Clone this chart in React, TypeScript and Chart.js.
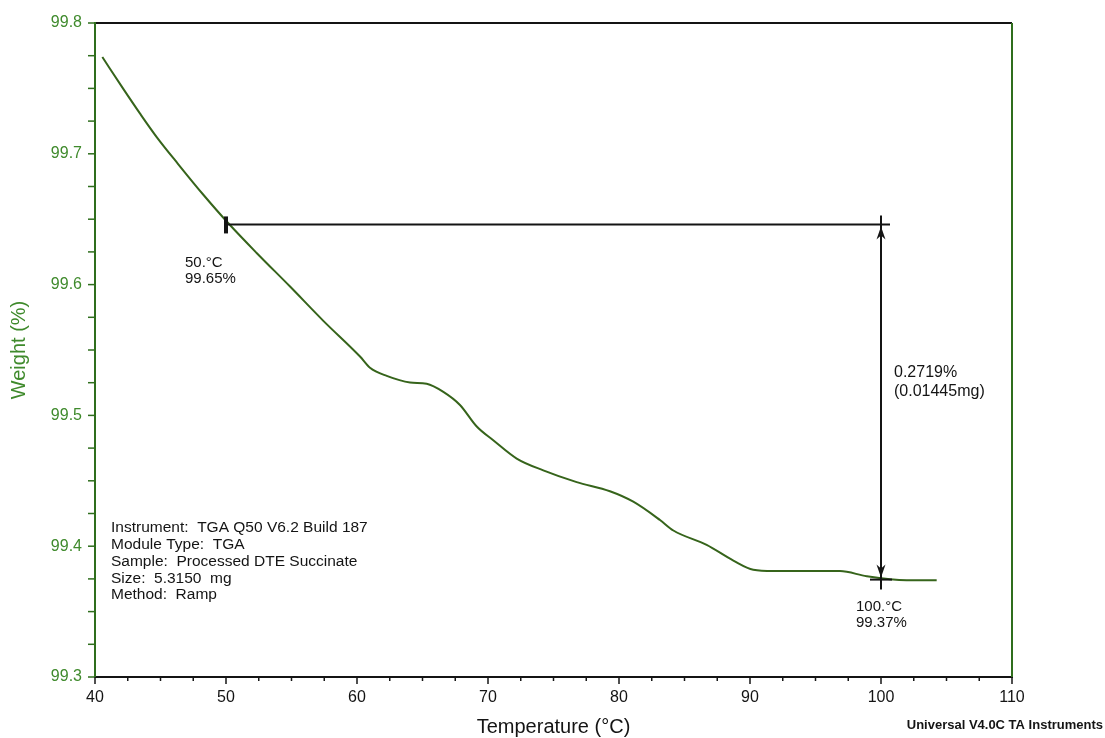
import React, { useEffect, useRef } from "react";
import { Chart, registerables } from "chart.js";

Chart.register(...registerables);

// Temperature (°C) and weight (%)
const temperature = [40.56, 42.16, 43.44, 44.71, 46.36, 48.27, 50.18, 52.34, 54.89, 57.43, 60.23, 60.99, 62.27, 64.05, 65.32, 66.59, 67.86, 69.14, 70.4, 72.19, 74.22, 76.77, 79.31, 81.09, 83.13, 84.15, 86.69, 88.73, 90.25, 91.78, 96.87, 98.91, 101.96, 104.25];
const weight = [99.774, 99.7496, 99.7307, 99.7128, 99.692, 99.6687, 99.6469, 99.6242, 99.5985, 99.5723, 99.545, 99.5365, 99.5302, 99.5252, 99.5242, 99.518, 99.508, 99.4915, 99.481, 99.467, 99.458, 99.449, 99.442, 99.434, 99.42, 99.412, 99.401, 99.389, 99.382, 99.381, 99.381, 99.377, 99.374, 99.374];

// Step analysis markers
const markStart = { t: 50, w: 99.646 };
const markEnd = { t: 100, w: 99.376 };
const startLabel = ["50.°C", "99.65%"];
const endLabel = ["100.°C", "99.37%"];
const stepLabel = ["0.2719%", "(0.01445mg)"];
const infoLines = [
  "Instrument:  TGA Q50 V6.2 Build 187",
  "Module Type:  TGA",
  "Sample:  Processed DTE Succinate",
  "Size:  5.3150  mg",
  "Method:  Ramp",
];
const footer = "Universal V4.0C TA Instruments";

const xMin = 40, xMax = 110, xMinorStep = 2.5;
const yMin = 99.3, yMax = 99.8, yMinorStep = 0.025;

const FONT = '"Liberation Sans", Arial, Helvetica, sans-serif';
const GREEN_LABEL = "#3f8a2c";
const GREEN_AXIS = "#2f6e1d";
const CURVE = "#36641b";
const INK = "#141414";

const overlay = {
  id: "tgaOverlay",
  afterDraw(chart: any) {
    const { ctx, chartArea, scales } = chart;
    const { left, right, top, bottom } = chartArea;
    const xs = scales.x, ys = scales.y;
    ctx.save();
    // frame
    ctx.lineWidth = 2;
    ctx.strokeStyle = INK;
    ctx.beginPath(); ctx.moveTo(left, top); ctx.lineTo(right, top); ctx.stroke();
    ctx.beginPath(); ctx.moveTo(left, bottom); ctx.lineTo(right + 1, bottom); ctx.stroke();
    ctx.strokeStyle = GREEN_AXIS;
    ctx.beginPath(); ctx.moveTo(left, top - 1); ctx.lineTo(left, bottom); ctx.stroke();
    ctx.beginPath(); ctx.moveTo(right, top); ctx.lineTo(right, bottom); ctx.stroke();

    // y ticks
    ctx.lineWidth = 1.5;
    ctx.strokeStyle = GREEN_AXIS;
    const ny = Math.round((yMax - yMin) / yMinorStep);
    for (let i = 0; i <= ny; i++) {
      const py = ys.getPixelForValue(yMin + i * yMinorStep);
      ctx.beginPath(); ctx.moveTo(left - 7, py); ctx.lineTo(left, py); ctx.stroke();
    }
    // x ticks
    ctx.strokeStyle = INK;
    const nx = Math.round((xMax - xMin) / xMinorStep);
    for (let i = 0; i <= nx; i++) {
      const px = xs.getPixelForValue(xMin + i * xMinorStep);
      const len = i % 4 === 0 ? 7 : 4;
      ctx.beginPath(); ctx.moveTo(px, bottom); ctx.lineTo(px, bottom + len); ctx.stroke();
    }

    // step annotation
    const x1 = xs.getPixelForValue(markStart.t);
    const y1 = ys.getPixelForValue(markStart.w);
    const x2 = xs.getPixelForValue(markEnd.t);
    const y2 = ys.getPixelForValue(markEnd.w);
    ctx.strokeStyle = INK;
    ctx.fillStyle = INK;
    ctx.lineWidth = 2;
    ctx.beginPath(); ctx.moveTo(x1, y1); ctx.lineTo(x2 + 9, y1); ctx.stroke();
    ctx.lineWidth = 4;
    ctx.beginPath(); ctx.moveTo(x1, y1 - 8); ctx.lineTo(x1, y1 + 9); ctx.stroke();
    ctx.lineWidth = 2;
    ctx.beginPath(); ctx.moveTo(x2, y1 - 9); ctx.lineTo(x2, y2 + 12); ctx.stroke();
    ctx.beginPath(); ctx.moveTo(x2 - 11, y2 + 2); ctx.lineTo(x2 + 11, y2 + 2); ctx.stroke();
    // arrowheads
    const head = (tipY: number, dir: number) => {
      ctx.beginPath();
      ctx.moveTo(x2, tipY);
      ctx.lineTo(x2 - 4.5, tipY + dir * 13);
      ctx.lineTo(x2, tipY + dir * 9);
      ctx.lineTo(x2 + 4.5, tipY + dir * 13);
      ctx.closePath();
      ctx.fill();
    };
    head(y1 + 2, 1);
    head(y2, -1);

    // texts
    ctx.textBaseline = "middle";
    ctx.textAlign = "left";
    ctx.fillStyle = INK;
    ctx.font = `15px ${FONT}`;
    startLabel.forEach((s, i) => ctx.fillText(s, x1 - 41, y1 + 38 + i * 16));
    endLabel.forEach((s, i) => ctx.fillText(s, x2 - 25, y2 + 29 + i * 16));
    ctx.font = `16px ${FONT}`;
    stepLabel.forEach((s, i) => ctx.fillText(s, x2 + 13, y1 + 148 + i * 19));
    ctx.font = `15.5px ${FONT}`;
    infoLines.forEach((s, i) => ctx.fillText(s, left + 16, 528 + i * 16.8));
    ctx.font = `bold 13px ${FONT}`;
    ctx.textAlign = "right";
    ctx.fillText(footer, 1103, 725);
    ctx.restore();
  },
};

export default function App() {
  const ref = useRef<HTMLCanvasElement | null>(null);
  useEffect(() => {
    if (!ref.current) return;
    const chart = new Chart(ref.current, {
      type: "line",
      data: {
        datasets: [
          {
            data: temperature.map((t, i) => ({ x: t, y: weight[i] })),
            borderColor: CURVE,
            borderWidth: 2,
            pointRadius: 0,
            fill: false,
            cubicInterpolationMode: "monotone",
          },
        ],
      },
      options: {
        animation: false,
        responsive: false,
        maintainAspectRatio: false,
        layout: { padding: { left: 0, top: 23, right: 93, bottom: 0 } },
        plugins: { legend: { display: false }, tooltip: { enabled: false } },
        scales: {
          x: {
            type: "linear",
            min: xMin,
            max: xMax,
            grid: { display: false, drawTicks: false },
            border: { display: false },
            ticks: { stepSize: 10, color: INK, padding: 11, font: { family: FONT, size: 16 }, maxRotation: 0 },
            title: { display: true, text: "Temperature (°C)", color: INK, font: { family: FONT, size: 20, lineHeight: 1.1 }, padding: 0 },
            afterFit: (s: any) => { s.height = 61; },
          },
          y: {
            type: "linear",
            min: yMin,
            max: yMax,
            grid: { display: false, drawTicks: false },
            border: { display: false },
            ticks: { stepSize: 0.1, color: GREEN_LABEL, padding: 13, font: { family: FONT, size: 16 }, callback: (v: any) => Number(v).toFixed(1) },
            title: { display: true, text: "Weight (%)", color: GREEN_LABEL, font: { family: FONT, size: 20 }, padding: { top: 7, bottom: 0 } },
            afterFit: (s: any) => { s.width = 95; },
          },
        },
      },
      plugins: [overlay],
    });
    return () => chart.destroy();
  }, []);
  return (
    <div style={{ position: "absolute", left: 0, top: 0, width: 1105, height: 738, background: "#fff" }}>
      <canvas ref={ref} width={1105} height={738} style={{ display: "block" }} />
    </div>
  );
}
